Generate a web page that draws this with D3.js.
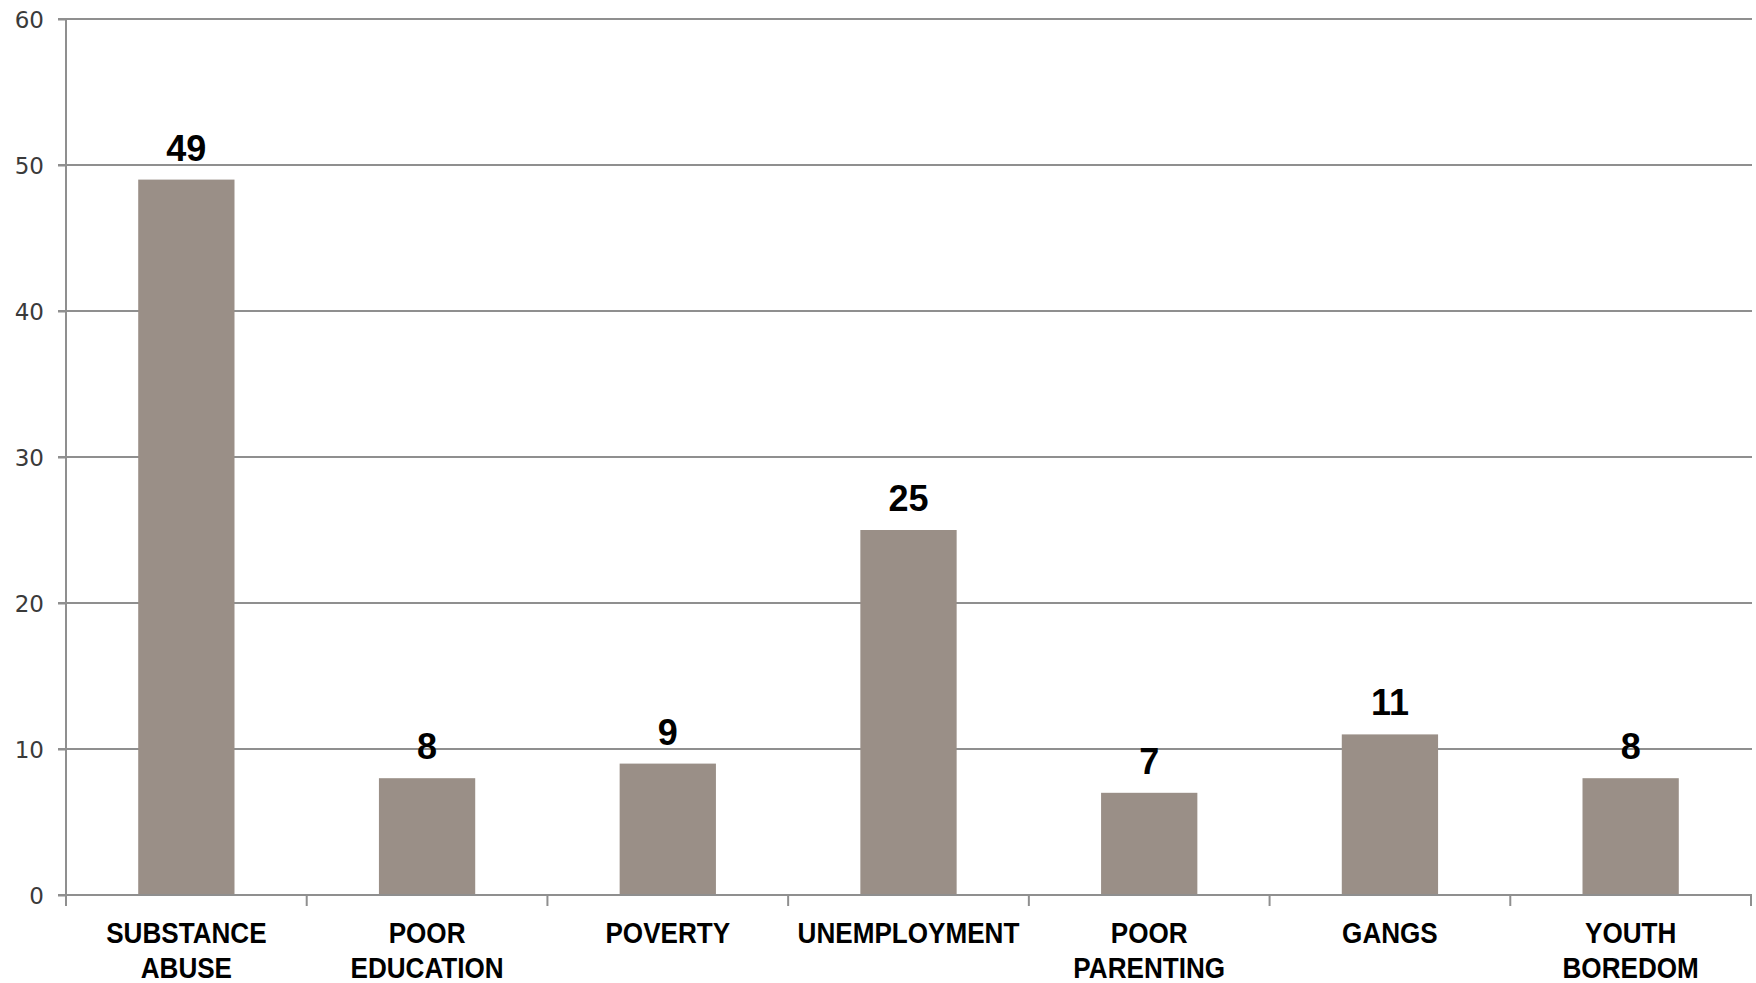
<!DOCTYPE html>
<html><head><meta charset="utf-8">
<script src="https://cdn.jsdelivr.net/npm/d3@7/dist/d3.min.js"></script>
<style>
html,body{margin:0;padding:0;background:#fff;}
svg{display:block;}
</style></head>
<body>
<svg id="chart" width="1756" height="983"></svg>
<script>
const categories = [["SUBSTANCE","ABUSE"],["POOR","EDUCATION"],["POVERTY"],["UNEMPLOYMENT"],["POOR","PARENTING"],["GANGS"],["YOUTH","BOREDOM"]];
const values = [49, 8, 9, 25, 7, 11, 8];
const yTicks = [0, 10, 20, 30, 40, 50, 60];

(function(){
const svg = d3.select("#chart");
const mLeft = 66, mRight = 1751, mTop = 19, mBottom = 895;
const keys = categories.map(c => c.join(" "));

const x = d3.scaleBand().domain(keys).range([mLeft, mRight]).paddingInner(0.6).paddingOuter(0.3);
const y = d3.scaleLinear().domain([0, 60]).range([mBottom, mTop]);

const gridColor = "#8f8f8f";

svg.append("g").selectAll("line").data(yTicks.filter(d => d > 0)).join("line")
  .attr("x1", mLeft - 8).attr("x2", mRight + 1)
  .attr("y1", d => y(d)).attr("y2", d => y(d))
  .attr("stroke", gridColor).attr("stroke-width", 2);

const yAxis = d3.axisLeft(y).tickValues(yTicks).tickSize(8).tickPadding(14).tickFormat(d3.format("d"));
const gy = svg.append("g").attr("transform", `translate(${mLeft},0)`).call(yAxis);
gy.select(".domain").attr("stroke", gridColor).attr("stroke-width", 2).attr("d", `M0,${mTop}V${mBottom}`);
gy.selectAll(".tick line").attr("stroke", gridColor).attr("stroke-width", 2);
gy.selectAll(".tick text").attr("fill", "#3a3a3a").style("font-family", "'DejaVu Sans', sans-serif")
  .style("font-size", "23px").attr("dy", "0.36em").attr("x", -22);

svg.append("g").selectAll("rect").data(values).join("rect")
  .attr("x", (d, i) => x(keys[i]))
  .attr("width", x.bandwidth())
  .attr("y", d => y(d))
  .attr("height", d => y(0) - y(d))
  .attr("fill", "#9a8f87");

svg.append("line").attr("x1", mLeft - 8).attr("x2", mRight + 1).attr("y1", mBottom).attr("y2", mBottom)
  .attr("stroke", gridColor).attr("stroke-width", 2);
const boundaries = d3.range(keys.length + 1).map(i => mLeft + i * (mRight - mLeft) / keys.length);
svg.append("g").selectAll("line").data(boundaries).join("line")
  .attr("x1", d => d).attr("x2", d => d).attr("y1", mBottom).attr("y2", mBottom + 11)
  .attr("stroke", gridColor).attr("stroke-width", 2);

svg.append("g").selectAll("text").data(values).join("text")
  .attr("x", (d, i) => x(keys[i]) + x.bandwidth() / 2)
  .attr("y", d => y(d) - 19)
  .attr("text-anchor", "middle")
  .style("font-family", "'Liberation Sans', Arial, sans-serif")
  .style("font-weight", "bold").style("font-size", "36px").attr("fill", "#000")
  .text(d => d);

const cat = svg.append("g").selectAll("text").data(categories).join("text")
  .attr("transform", (d, i) => `translate(${x(keys[i]) + x.bandwidth() / 2},943) scale(0.9,1)`)
  .attr("x", 0).attr("y", 0)
  .attr("text-anchor", "middle")
  .style("font-family", "'Liberation Sans', Arial, sans-serif")
  .style("font-weight", "bold").style("font-size", "29px").attr("fill", "#000");
cat.selectAll("tspan").data(d => d).join("tspan")
  .attr("x", 0)
  .attr("dy", (d, i) => i === 0 ? 0 : 35)
  .text(d => d);
})();
</script>
</body></html>
